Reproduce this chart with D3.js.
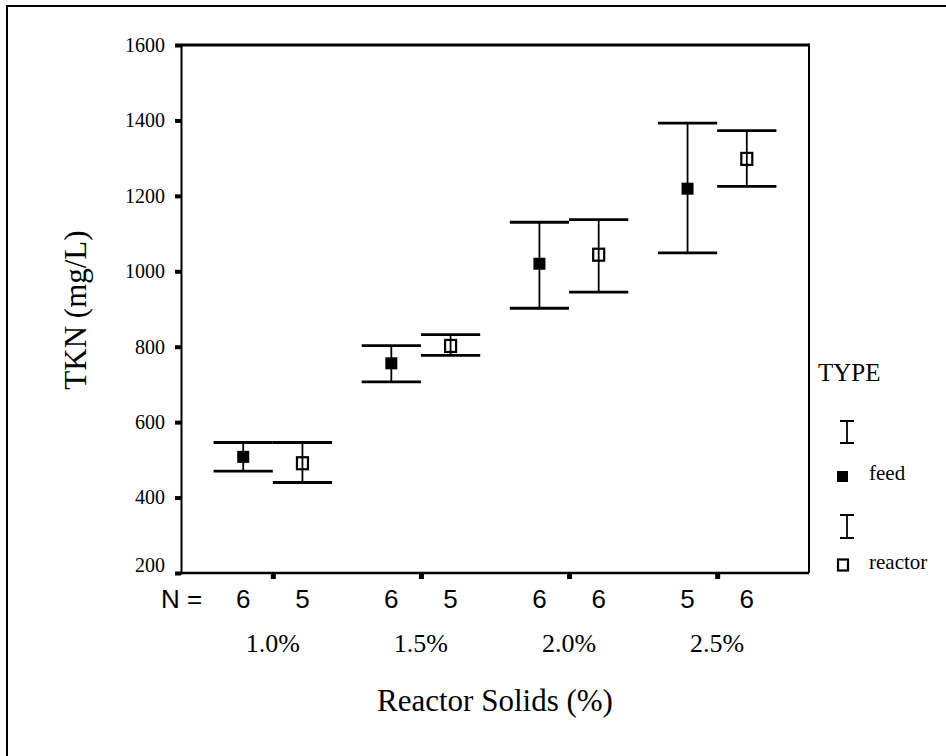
<!DOCTYPE html>
<html>
<head>
<meta charset="utf-8">
<script src="https://cdn.jsdelivr.net/npm/d3@7"></script>
<style>
  html, body { margin: 0; padding: 0; background: #fff; }
  svg { display: block; }
</style>
</head>
<body>
<svg id="chart" width="946" height="756"></svg>
<script>
const categories = ["1.0%", "1.5%", "2.0%", "2.5%"];
const feedMean = [508, 756, 1020, 1219];
const feedLow = [470, 707, 902, 1049];
const feedHigh = [546, 803, 1130, 1393];
const feedN = [6, 6, 6, 5];
const reactorMean = [491, 802, 1044, 1298];
const reactorLow = [440, 777, 945, 1225];
const reactorHigh = [546, 832, 1137, 1373];
const reactorN = [5, 5, 6, 6];
const yTicks = [200, 400, 600, 800, 1000, 1200, 1400, 1600];
const legendLabels = ["feed", "reactor"];

(function () {
const serif = "'Liberation Serif', 'Times New Roman', serif";
const sans = "'Liberation Sans', Arial, sans-serif";

const svg = d3.select("#chart");
const pLeft = 181, pRight = 809, pTop = 45, pBottom = 573;

// outer frame (only top/left visible)
svg.append("rect").attr("x", 7).attr("y", 6).attr("width", 960).attr("height", 780)
  .attr("fill", "none").attr("stroke", "#000").attr("stroke-width", 2);

const x = d3.scalePoint().domain(categories).range([pLeft, pRight]).padding(0.62);
const y = d3.scaleLinear().domain([200, 1600]).range([pBottom, pTop]);
const off = x.step() * 0.2;

// plot frame
svg.append("line").attr("x1", pLeft).attr("x2", pRight).attr("y1", pTop).attr("y2", pTop)
  .attr("stroke", "#000").attr("stroke-width", 3);
svg.append("line").attr("x1", pRight).attr("x2", pRight).attr("y1", pTop - 1.5).attr("y2", pBottom)
  .attr("stroke", "#000").attr("stroke-width", 2);

// y axis
const yAxis = d3.axisLeft(y).tickValues(yTicks).tickSize(6).tickPadding(10).tickFormat(d3.format("d"));
const gy = svg.append("g").attr("transform", `translate(${pLeft},0)`).call(yAxis);
gy.select(".domain").attr("stroke-width", 2);
gy.selectAll(".tick line").attr("stroke-width", 4);
gy.selectAll(".tick text").attr("font-family", serif).attr("font-size", 20).attr("fill", "#000")
  .filter(d => d === 200).attr("dy", "-0.1em");

// x axis
const xAxis = d3.axisBottom(x).tickSize(6).tickFormat("");
const gx = svg.append("g").attr("transform", `translate(0,${pBottom})`).call(xAxis);
gx.select(".domain").attr("stroke-width", 2.5).attr("d", `M${pLeft},0H${pRight}`);
gx.selectAll(".tick line").attr("stroke-width", 5);

// category labels
svg.append("g").selectAll("text").data(categories).join("text")
  .attr("x", d => x(d)).attr("y", 652).attr("text-anchor", "middle")
  .attr("font-family", serif).attr("font-size", 26).text(d => d);

// N row
svg.append("text").attr("x", 161).attr("y", 608).attr("font-family", sans).attr("font-size", 26).text("N =");
svg.append("g").selectAll("text").data(categories).join("text")
  .attr("x", d => x(d) - off).attr("y", 608).attr("text-anchor", "middle")
  .attr("font-family", sans).attr("font-size", 26).text((d, i) => feedN[i]);
svg.append("g").selectAll("text").data(categories).join("text")
  .attr("x", d => x(d) + off).attr("y", 608).attr("text-anchor", "middle")
  .attr("font-family", sans).attr("font-size", 26).text((d, i) => reactorN[i]);

// error bars
function drawSeries(mean, low, high, dx, filled) {
  const g = svg.append("g");
  const data = categories.map((c, i) => ({ c, m: mean[i], lo: low[i], hi: high[i] }));
  if (filled) {
    g.selectAll(".pt").data(data).join("rect")
      .attr("x", d => x(d.c) + dx - 6).attr("y", d => y(d.m) - 6)
      .attr("width", 12).attr("height", 12).attr("fill", "#000");
  } else {
    g.selectAll(".pt").data(data).join("rect")
      .attr("x", d => x(d.c) + dx - 5.5).attr("y", d => y(d.m) - 6)
      .attr("width", 11).attr("height", 12).attr("fill", "none")
      .attr("stroke", "#000").attr("stroke-width", 2.2);
  }
  g.selectAll(".stem").data(data).join("line")
    .attr("x1", d => x(d.c) + dx).attr("x2", d => x(d.c) + dx)
    .attr("y1", d => y(d.hi)).attr("y2", d => y(d.lo))
    .attr("stroke", "#000").attr("stroke-width", 1.8);
  ["hi", "lo"].forEach(k => {
    g.selectAll(".cap" + k).data(data).join("line")
      .attr("x1", d => x(d.c) + dx - off).attr("x2", d => x(d.c) + dx + off)
      .attr("y1", d => y(d[k])).attr("y2", d => y(d[k]))
      .attr("stroke", "#000").attr("stroke-width", 2.8);
  });
}
drawSeries(feedMean, feedLow, feedHigh, -off, true);
drawSeries(reactorMean, reactorLow, reactorHigh, off, false);

// axis titles
svg.append("text").attr("transform", "translate(86,310) rotate(-90)").attr("text-anchor", "middle")
  .attr("font-family", serif).attr("font-size", 31).text("TKN (mg/L)");
svg.append("text").attr("x", 495).attr("y", 711).attr("text-anchor", "middle")
  .attr("font-family", serif).attr("font-size", 31).text("Reactor Solids (%)");

// legend
const lg = svg.append("g");
lg.append("text").attr("x", 818).attr("y", 381).attr("font-family", serif).attr("font-size", 25).text("TYPE");
const legendRows = [{ t: 421, b: 443, sq: 476, filled: true }, { t: 515, b: 538, sq: 565, filled: false }];
legendRows.forEach((r, i) => {
  lg.append("line").attr("x1", 847).attr("x2", 847).attr("y1", r.t).attr("y2", r.b).attr("stroke", "#000").attr("stroke-width", 1.8);
  [r.t, r.b].forEach(yy => lg.append("line").attr("x1", 840).attr("x2", 854).attr("y1", yy).attr("y2", yy).attr("stroke", "#000").attr("stroke-width", 2));
  if (r.filled) {
    lg.append("rect").attr("x", 837).attr("y", r.sq - 5).attr("width", 11).attr("height", 11).attr("fill", "#000");
  } else {
    lg.append("rect").attr("x", 838).attr("y", r.sq - 5.5).attr("width", 10).attr("height", 11).attr("fill", "none")
      .attr("stroke", "#000").attr("stroke-width", 2.2);
  }
  lg.append("text").attr("x", 869).attr("y", r.sq + 4).attr("font-family", serif).attr("font-size", 21).text(legendLabels[i]);
});
})();
</script>
</body>
</html>
